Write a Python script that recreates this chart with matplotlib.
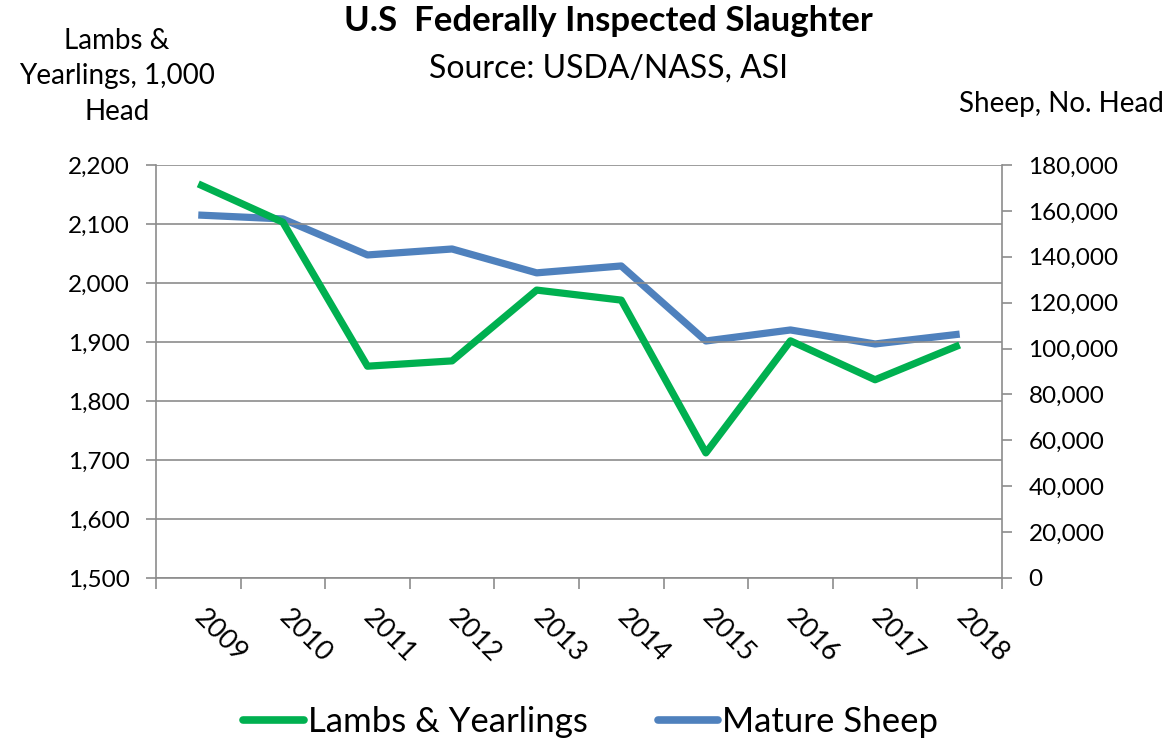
import numpy as np
import matplotlib.pyplot as plt
from matplotlib.ticker import FuncFormatter, FixedLocator

plt.rcParams["font.family"] = ["Lato", "DejaVu Sans"]

years = ["2009", "2010", "2011", "2012", "2013", "2014", "2015", "2016", "2017", "2018"]
lambs = [2168, 2103, 1859, 1868, 1988, 1971, 1712, 1902, 1836, 1895]
mature = [158200, 156500, 140800, 143400, 133000, 136000, 103300, 108100, 102000, 106300]

green = "#00B050"
blue = "#4F81BD"
grid_col = "#8C8C8C"
comma = FuncFormatter(lambda v, p: f"{int(v):,}")

fig = plt.figure(figsize=(11.7, 7.41), dpi=100)
ax = fig.add_axes([0.1333, 0.22, 0.7231, 0.5573])
ax2 = ax.twinx()

x = np.arange(len(years))
ax.plot(x, lambs, color=green, lw=5.2, solid_capstyle="butt", zorder=3)
ax2.plot(x, mature, color=blue, lw=5.2, solid_capstyle="butt", zorder=2)
ax.set_zorder(ax2.get_zorder() + 1)
ax.patch.set_visible(False)

ax.set_xlim(-0.5, len(years) - 0.5)
ax.set_ylim(1500, 2200)
ax2.set_ylim(0, 180000)
ax.set_yticks(np.arange(1500, 2201, 100))
ax2.set_yticks(np.arange(0, 180001, 20000))
ax.yaxis.set_major_formatter(comma)
ax2.yaxis.set_major_formatter(comma)
ax.grid(axis="y", color=grid_col, lw=1.2)

# category ticks at boundaries, labels centered on categories
ax.xaxis.set_major_locator(FixedLocator(np.arange(-0.5, len(years), 1)))
ax.xaxis.set_major_formatter(FuncFormatter(lambda v, p: ""))
ax.xaxis.set_minor_locator(FixedLocator(x))
ax.set_xticklabels(years, minor=True, rotation=-45, ha="left", va="center",
                   rotation_mode="anchor", fontsize=19.5)
ax.tick_params(axis="x", which="minor", length=0, pad=26)
ax.tick_params(axis="x", which="major", length=8, color=grid_col, width=1.2)

ax.tick_params(axis="y", length=7, color=grid_col, width=1.2, labelsize=17.5, pad=12)
ax2.tick_params(axis="y", length=7, color=grid_col, width=1.2, labelsize=17.5, pad=12)

for a in (ax, ax2):
    for s in a.spines.values():
        s.set_visible(False)
ax.spines["left"].set_visible(True)
ax.spines["bottom"].set_visible(True)
ax2.spines["right"].set_visible(True)
for s in (ax.spines["left"], ax.spines["bottom"], ax2.spines["right"]):
    s.set_color(grid_col)
    s.set_linewidth(1.2)

fig.text(0.52, 0.972, "U.S  Federally Inspected Slaughter", ha="center", va="center",
         fontsize=25, fontweight="bold")
fig.text(0.52, 0.908, "Source: USDA/NASS, ASI", ha="center", va="center", fontsize=23)
fig.text(0.1, 0.897, "Lambs &\nYearlings, 1,000\nHead", ha="center", va="center",
         fontsize=20, linespacing=1.45)
fig.text(0.995, 0.86, "Sheep, No. Head", ha="right", va="center", fontsize=20)

handles = [plt.Line2D([], [], color=green, lw=5.5, solid_capstyle="round"),
           plt.Line2D([], [], color=blue, lw=5.5, solid_capstyle="round")]
fig.legend(handles, ["Lambs & Yearlings", "Mature Sheep"], loc="center",
           bbox_to_anchor=(0.505, 0.026), ncol=2, frameon=False, fontsize=25,
           handlelength=1.75, handletextpad=0.12, columnspacing=2.0)

fig.savefig("out.png", dpi=100)
